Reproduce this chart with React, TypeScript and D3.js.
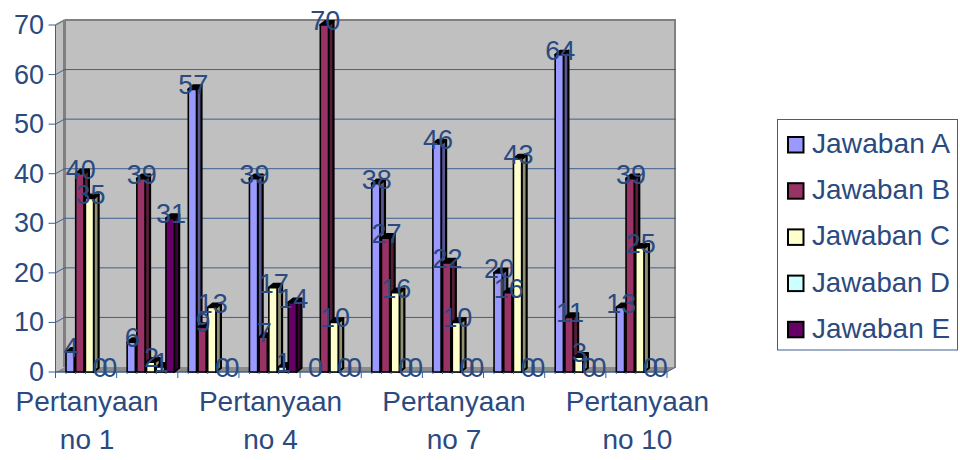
import React from "react";
import * as d3 from "d3";

const categories = ["Pertanyaan no 1","Pertanyaan no 2","Pertanyaan no 3","Pertanyaan no 4","Pertanyaan no 5","Pertanyaan no 6","Pertanyaan no 7","Pertanyaan no 8","Pertanyaan no 9","Pertanyaan no 10"];
const seriesNames = ["Jawaban A","Jawaban B","Jawaban C","Jawaban D","Jawaban E"];
const jawabanA = [4,6,57,39,0,38,46,20,64,13];
const jawabanB = [40,39,9,7,70,27,22,16,11,39];
const jawabanC = [35,2,13,17,10,16,10,43,3,25];
const jawabanD = [0,1,0,1,0,0,0,0,0,0];
const jawabanE = [0,31,0,14,0,0,0,0,0,0];
const seriesValues = [jawabanA,jawabanB,jawabanC,jawabanD,jawabanE];
const colors = ["#9999ff","#993366","#ffffcc","#ccffff","#660066"];
const yTicks = [0,10,20,30,40,50,60,70];
const shownCategories = [0,3,6,9];

const textColor = "#2a4a80";
const axisColor = "#3f5f8f";
const font = "'Liberation Sans', Arial, sans-serif";
const depthX = 9, depthY = 5;
const barDX = 5, barDY = 4;

export default function App() {
  const x = d3.scaleBand<number>().domain(d3.range(10)).range([55.5, 667]);
  const y = d3.scaleLinear().domain([0, 70]).range([372, 25]);
  const inner = d3.scaleBand<number>().domain(d3.range(5)).range([0, 48.5]);
  const left = x(0)!, right = 667, base = y(0), top = y(70);
  const barOffset = 10.5;
  return (
    <svg width={960} height={460} style={{ position: "absolute", left: 0, top: 0 }} fontFamily={font}>
      <rect width={960} height={460} fill="#fff" />
      {/* walls */}
      <polygon points={`${left},${top} ${left + depthX},${top - depthY} ${right + depthX},${top - depthY} ${right + depthX},${base - depthY} ${left + depthX},${base - depthY} ${left},${base}`} fill="#c0c0c0" />
      <line x1={left + depthX} x2={right + depthX} y1={top - depthY} y2={top - depthY} stroke="#808080" strokeWidth={2} />
      <line x1={right + depthX - 1} x2={right + depthX - 1} y1={top - depthY} y2={base - depthY} stroke="#808080" strokeWidth={2} />
      <line x1={left + depthX} x2={left + depthX} y1={top - depthY} y2={base - depthY} stroke="#808080" strokeWidth={3} />
      <line x1={left} x2={left + depthX} y1={top} y2={top - depthY} stroke="#808080" strokeWidth={1.5} />
      <polygon points={`${left},${base} ${left + depthX},${base - depthY} ${right + depthX},${base - depthY} ${right},${base}`} fill="#8c8c8c" />
      {/* grid */}
      {yTicks.filter(t => t > 0 && t < 70).map(t => (
        <polyline key={t} stroke={axisColor} strokeWidth={1} fill="none" points={`${left},${y(t)} ${left + depthX},${y(t) - depthY} ${right + depthX},${y(t) - depthY}`} />
      ))}
      {/* axes */}
      <line x1={left} x2={left} y1={top} y2={base} stroke={axisColor} />
      <line x1={left} x2={right} y1={base} y2={base} stroke={axisColor} strokeWidth={1.5} />
      <line x1={right} x2={right + depthX} y1={base} y2={base - depthY} stroke={axisColor} />
      {yTicks.map(t => (
        <g key={t}>
          <line x1={left - 7} x2={left} y1={y(t)} y2={y(t)} stroke={axisColor} />
          <text x={44} y={y(t) + 9} textAnchor="end" fontSize={27} fill={textColor}>{t}</text>
        </g>
      ))}
      {d3.range(11).map(i => {
        const tx = left + x.step() * i;
        return <line key={i} x1={tx} x2={tx} y1={base} y2={base + 6} stroke={axisColor} />;
      })}
      {shownCategories.map(i => {
        const name = categories[i];
        const cx = x(i)! + x.bandwidth() / 2 + 1;
        return (
          <g key={i} fontSize={28} fill={textColor} textAnchor="middle">
            <text x={cx} y={411}>{name.slice(0, 10)}</text>
            <text x={cx} y={449}>{name.slice(11)}</text>
          </g>
        );
      })}
      {/* bars */}
      {categories.map((_, c) => (
        <g key={c}>
          {seriesValues.map((vals, s) => {
            const v = vals[c];
            if (v === 0) return null;
            const bx = x(c)! + barOffset + inner(s)!;
            const w = inner.bandwidth() - 1.5;
            const by = y(v);
            return (
              <g key={s} stroke="#000" strokeWidth={2.2} strokeLinejoin="round">
                <polygon points={`${bx + w},${by} ${bx + w + barDX},${by - barDY} ${bx + w + barDX},${base - barDY} ${bx + w},${base}`} fill={d3.color(colors[s])!.darker(1.6).formatHex()} />
                <polygon points={`${bx},${by} ${bx + barDX},${by - barDY} ${bx + w + barDX},${by - barDY} ${bx + w},${by}`} fill="#000" />
                <rect x={bx} y={by} width={w} height={base - by} fill={colors[s]} strokeWidth={1.6} />
                <line x1={bx} x2={bx} y1={base} y2={base + 2} stroke={axisColor} strokeWidth={1} />
              </g>
            );
          })}
        </g>
      ))}
      {/* data labels */}
      {categories.map((_, c) => (
        <g key={c} fontSize={27} fill={textColor} textAnchor="middle">
          {seriesValues.map((vals, s) => (
            <text key={s} x={x(c)! + barOffset + inner(s)! + 5} y={y(vals[c]) + 5}>{vals[c]}</text>
          ))}
        </g>
      ))}
      {/* legend */}
      <rect x={777.5} y={119.5} width={180} height={230.5} fill="#fff" stroke={axisColor} strokeWidth={1} />
      {seriesNames.map((n, i) => {
        const ly = 144.5 + i * 46.2;
        return (
          <g key={n}>
            <rect x={788} y={ly - 7.5} width={15.5} height={15.5} fill={colors[i]} stroke="#000" strokeWidth={2} />
            <text x={812} y={ly + 8.5} fontSize={28} fill={textColor} textLength={138} lengthAdjust="spacingAndGlyphs">{n}</text>
          </g>
        );
      })}
    </svg>
  );
}
